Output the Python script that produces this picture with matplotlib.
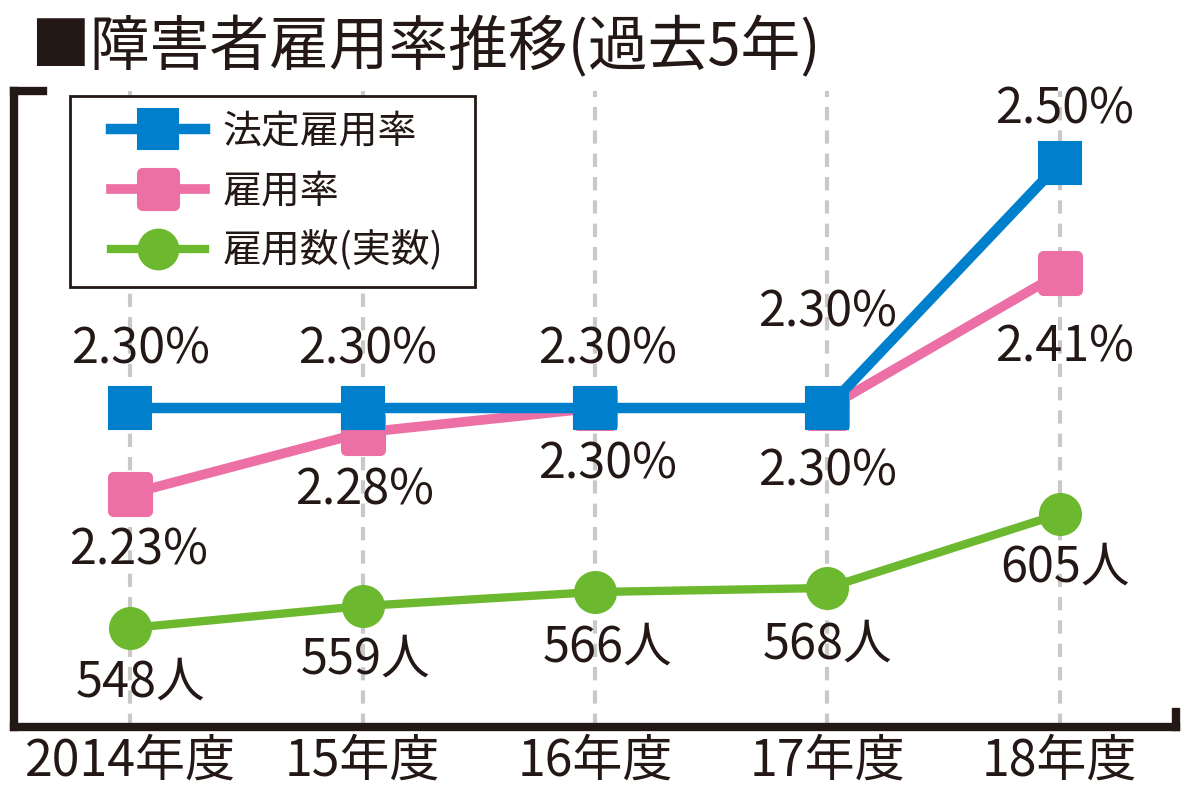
#!/usr/bin/env python3
"""
plot.py

障害者雇用率推移（過去5年）: rates on the left scale, head count on a twin scale.
"""
import matplotlib
matplotlib.use('Agg')
import matplotlib.pyplot as plt
from matplotlib.markers import MarkerStyle
from matplotlib.patches import Rectangle

plt.rcParams['font.family'] = ['Noto Sans CJK JP', 'DejaVu Sans']

years = ['2014年度', '15年度', '16年度', '17年度', '18年度']
legal_rate = [2.30, 2.30, 2.30, 2.30, 2.50]      # 法定雇用率 (%)
actual_rate = [2.23, 2.28, 2.30, 2.30, 2.41]     # 雇用率 (%)
headcount = [548, 559, 566, 568, 605]            # 雇用数（実数）

legend_labels = ['法定雇用率', '雇用率', '雇用数(実数)']
title = '■障害者雇用率推移(過去5年)'

# label offsets in pixels (dx, dy) relative to each marker
legal_off = [(10, 58), (5, 58), (13, 58), (0, 95), (5, 53)]
actual_off = [(8, -57), (2, -58), (13, -57), (0, -64), (5, -74)]
count_off = [(10, -55), (3, -54), (13, -56), (0, -57), (5, -54)]

BLUE = '#0080cc'
PINK = '#ec6fa6'
GREEN = '#6cb82e'
INK = '#231815'
GRID = '#c9c9c9'

W, H = 1200, 791


def main():
    fig = plt.figure(figsize=(W / 100, H / 100), dpi=100)
    ax = fig.add_axes([14 / W, 1 - 727 / H, 1162 / W, 636 / H])
    ax2 = ax.twinx()

    x = list(range(len(years)))

    ax.set_xlim(-0.5, 4.5)
    ax.set_ylim(2.0396, 2.5588)
    ax2.set_ylim(498.5, 816.5)

    # dashed vertical guides
    ax.set_xticks(x)
    ax.grid(axis='x', color=GRID, linewidth=3, linestyle=(0, (3.2, 2.4)))
    ax.grid(axis='y', visible=False)
    ax.set_axisbelow(True)

    (h_pink,) = ax.plot(x, actual_rate, color=PINK, linewidth=7,
                        marker=MarkerStyle('s', joinstyle='round'),
                        markersize=24, markeredgewidth=8,
                        markerfacecolor=PINK, markeredgecolor=PINK, zorder=3)
    (h_blue,) = ax.plot(x, legal_rate, color=BLUE, linewidth=7.5,
                        marker='s', markersize=30, markeredgewidth=1.5,
                        markerfacecolor=BLUE, markeredgecolor=BLUE, zorder=4)
    (h_green,) = ax2.plot(x, headcount, color=GREEN, linewidth=6,
                          marker='o', markersize=31, markeredgewidth=0,
                          markerfacecolor=GREEN, zorder=3)

    txt = dict(ha='center', va='center', fontsize=35, color=INK,
               textcoords='offset pixels', zorder=6)
    for i in x:
        ax.annotate(f'{legal_rate[i]:.2f}%', (i, legal_rate[i]),
                    xytext=legal_off[i], **txt)
        ax.annotate(f'{actual_rate[i]:.2f}%', (i, actual_rate[i]),
                    xytext=actual_off[i], **txt)
        ax2.annotate(f'{headcount[i]}人', (i, headcount[i]),
                     xytext=count_off[i], **txt)

    # axes frame: thick left/bottom with small corner hooks
    for a in (ax, ax2):
        for s in ('top', 'right'):
            a.spines[s].set_visible(False)
    ax2.spines['left'].set_visible(False)
    ax2.spines['bottom'].set_visible(False)
    for s in ('left', 'bottom'):
        ax.spines[s].set_linewidth(6)
        ax.spines[s].set_color(INK)
        ax.spines[s].set_capstyle('projecting')
    ax.plot([0, 0.025], [1, 1], transform=ax.transAxes, color=INK,
            linewidth=6, solid_capstyle='projecting', clip_on=False)
    ax.plot([1, 1], [0, 0.024], transform=ax.transAxes, color=INK,
            linewidth=6, solid_capstyle='projecting', clip_on=False)

    ax.set_yticks([])
    ax2.set_yticks([])
    ax.set_xticklabels(years, fontsize=36, color=INK)
    ax.tick_params(axis='x', length=0, pad=6)

    # legend box drawn separately for exact padding
    ax2.add_patch(Rectangle((70 / W, 1 - 287 / H), 405 / W, 191 / H,
                            transform=fig.transFigure, facecolor='white',
                            edgecolor=INK, linewidth=2, zorder=4.5,
                            clip_on=False))
    leg = ax2.legend([h_blue, h_pink, h_green], legend_labels,
                     loc='upper left', bbox_to_anchor=(111 / W, 1 - 112 / H),
                     bbox_transform=fig.transFigure, borderaxespad=0,
                     borderpad=0, fontsize=28, handlelength=2.42,
                     handletextpad=0.44, labelspacing=0.5, markerscale=0.97,
                     frameon=False)
    leg.set_zorder(6)
    for t in leg.get_texts():
        t.set_color(INK)

    fig.text(30 / W, 1 - 48 / H, title,
             fontsize=43, color=INK, ha='left', va='center')

    fig.savefig('out.png', dpi=100, facecolor='white')
    print('Wrote out.png')


if __name__ == '__main__':
    main()
